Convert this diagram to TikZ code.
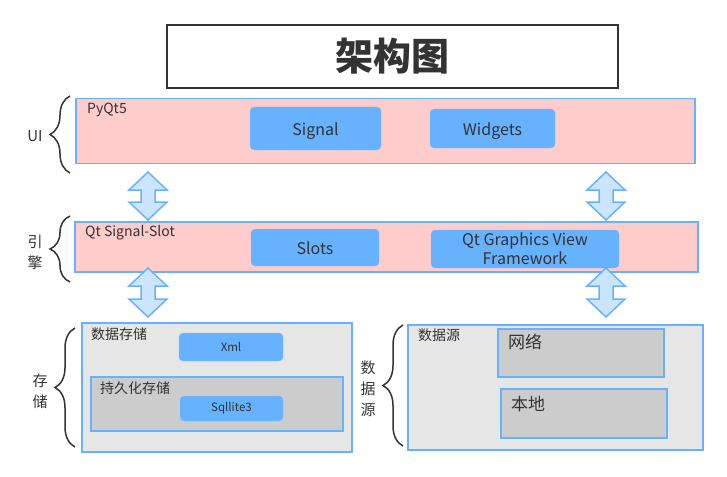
\documentclass[tikz,border=0pt]{standalone}
\usepackage{fontspec}
\setmainfont{Noto Sans CJK SC}
\usetikzlibrary{decorations.pathreplacing}
\definecolor{pinkf}{HTML}{FFCCCC}
\definecolor{blueb}{HTML}{66B2FF}
\definecolor{lgray}{HTML}{E6E6E6}
\definecolor{mgray}{HTML}{CCCCCC}
\definecolor{arrf}{HTML}{CCE5FF}
\definecolor{txt}{HTML}{333333}
\newcommand\dblarr[3]{\draw[arrsty] (#1,#2) -- (#1+19,#2+18) -- (#1+7,#2+18) -- (#1+7,#3-18) -- (#1+19,#3-18) -- (#1,#3) -- (#1-19,#3-18) -- (#1-7,#3-18) -- (#1-7,#2+18) -- (#1-19,#2+18) -- cycle;}
\newcommand\dn[1]{\raisebox{-3pt}[10pt][3pt]{#1}}
\begin{document}
\begin{tikzpicture}[x=1pt,y=-1pt,
  every node/.style={text=txt, inner sep=0pt},
  band/.style={draw=blueb, line width=1.8pt, fill=pinkf},
  panel/.style={draw=blueb, line width=1.8pt, fill=lgray},
  subpanel/.style={draw=blueb, line width=1.8pt, fill=mgray},
  item/.style={fill=blueb, draw=blueb!80!white, rounded corners=4pt, font=\fontsize{16}{18}\selectfont},
  smallitem/.style={fill=blueb, draw=blueb!80!white, rounded corners=4pt, font=\fontsize{11.5}{13}\selectfont},
  lbl/.style={anchor=west, font=\fontsize{14}{16}\selectfont},
  side/.style={align=center, font=\fontsize{15}{21}\selectfont},
  bracesty/.style={draw=txt, line width=1.5pt, decorate, decoration={brace, amplitude=20pt}},
  arrsty/.style={draw=blueb, line width=1.5pt, fill=arrf, line join=miter}]
\useasboundingbox (0,0) rectangle (727,476);
% title
\node[draw=txt, line width=1.6pt, minimum width=451pt, minimum height=63pt, font=\fontsize{38}{40}\selectfont\bfseries] (title) at (392.5,56.5) {架构图};
% UI band
\node[band, minimum width=619pt, minimum height=65pt] (ui) at (385.5,131) {};
\node[lbl] (pyqt) at (87,110) {PyQt5};
\node[item, minimum width=131pt, minimum height=43pt] (signal) at (315.5,128.5) {\dn{Signal}};
\node[item, minimum width=125pt, minimum height=39pt] (widgets) at (492.5,128.5) {\dn{Widgets}};
% engine band
\node[band, minimum width=623pt, minimum height=50pt] (eng) at (386.5,247) {};
\node[lbl] (qss) at (85,233) {Qt Signal-Slot};
\node[item, minimum width=128pt, minimum height=37pt] (slots) at (315,247.5) {\dn{Slots}};
\node[item, minimum width=188pt, minimum height=38pt, align=center, font=\fontsize{16}{20}\selectfont] (gv) at (525,249) {Qt Graphics View\\[-1pt]Framework};
% storage panel
\node[panel, minimum width=270pt, minimum height=129pt] (store) at (217,387.5) {};
\node[lbl] (storelbl) at (91,334) {数据存储};
\node[smallitem, minimum width=104pt, minimum height=28pt] (xml) at (231,347) {Xml};
\node[subpanel, minimum width=252pt, minimum height=54pt] (persist) at (217,404) {};
\node[lbl] (persistlbl) at (100,388) {持久化存储};
\node[smallitem, minimum width=103pt, minimum height=25pt] (sql) at (231.5,408.5) {Sqllite3};
% data source panel
\node[panel, minimum width=295pt, minimum height=125pt] (src) at (555.5,387.5) {};
\node[lbl] (srclbl) at (418,335) {数据源};
\node[subpanel, minimum width=166pt, minimum height=48pt] (net) at (581,353) {};
\node[anchor=west, font=\fontsize{17}{19}\selectfont] (netlbl) at (508,342) {网络};
\node[subpanel, minimum width=166pt, minimum height=49pt] (loc) at (584,413.5) {};
\node[anchor=west, font=\fontsize{17}{19}\selectfont] (loclbl) at (511,404) {本地};
% braces
\draw[bracesty] (70,173) -- (70,96);
\node[side] (uil) at (35,136) {UI};
\draw[bracesty] (70,282) -- (70,216);
\node[side] (engl) at (35,252) {引\\擎};
\draw[bracesty] (75,447) -- (75,328);
\node[side] (storel) at (40,391) {存\\储};
\draw[bracesty] (403,446) -- (403,325);
\node[side] (srcl) at (368,389) {数\\据\\源};
% double arrows
\dblarr{148}{172}{220}
\dblarr{606}{172}{220}
\dblarr{148}{268}{317}
\dblarr{606}{268}{317}
\end{tikzpicture}
\end{document}
